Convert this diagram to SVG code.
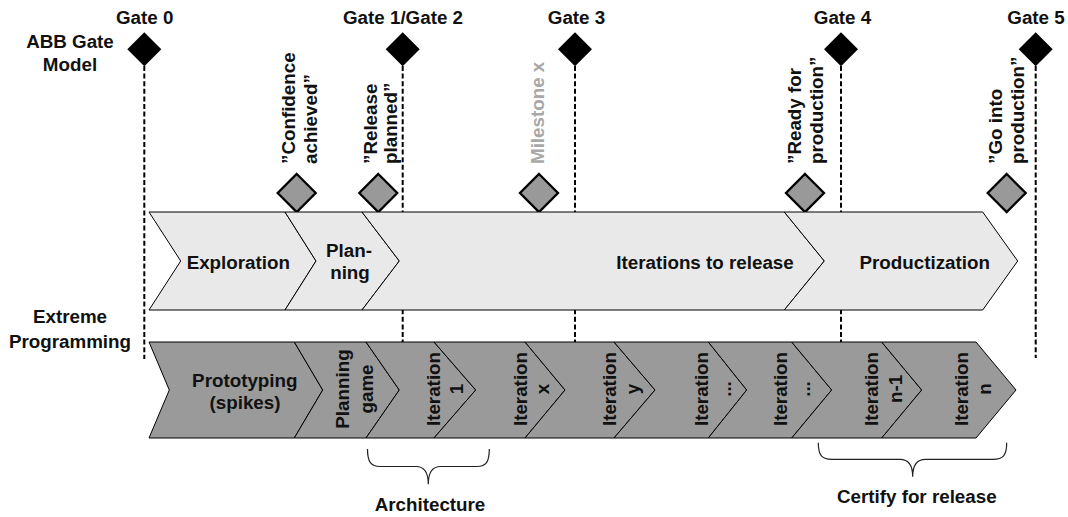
<svg xmlns="http://www.w3.org/2000/svg" width="1068" height="517" viewBox="0 0 1068 517">
  <style>
    text { font-family: "Liberation Sans", Arial, Helvetica, sans-serif; font-weight: bold; font-size: 18.8px; fill: #111; }
    .mid { text-anchor: middle; }
    .muted { fill: #a8a8a8; }
    .gate { fill: #000; }
    .milestone { fill: #999; stroke: #000; stroke-width: 2.3; }
    .phase { fill: #e9e9e9; stroke: #000; stroke-width: 1; stroke-linejoin: miter; }
    .xp { fill: #9a9a9a; stroke: #000; stroke-width: 1; stroke-linejoin: miter; }
    .guide { stroke: #000; stroke-width: 2; stroke-dasharray: 5 2.6; fill: none; }
    .brace { stroke: #222; stroke-width: 1.2; fill: none; }
  </style>
  <defs>
    <polygon id="gateShape" points="0,-17 17,0 0,17 -17,0"/>
    <polygon id="msShape" points="0,-19 19,0 0,19 -19,0"/>
  </defs>

  <rect width="1068" height="517" fill="#fff"/>

  <!-- row captions -->
  <g id="caption-abb">
    <text class="mid" x="70" y="47.5">ABB Gate</text>
    <text class="mid" x="70" y="70.5">Model</text>
  </g>
  <g id="caption-xp">
    <text class="mid" x="70" y="322.5">Extreme</text>
    <text class="mid" x="70" y="347.5">Programming</text>
  </g>

  <!-- dashed gate guide lines (drawn under the chevrons) -->
  <g id="connectors">
    <line class="guide" x1="144.3" y1="66" x2="144.3" y2="359"/>
    <line class="guide" x1="402.7" y1="66" x2="402.7" y2="342"/>
    <line class="guide" x1="575" y1="66" x2="575" y2="342"/>
    <line class="guide" x1="841" y1="66" x2="841" y2="342"/>
    <line class="guide" x1="1035.7" y1="66" x2="1035.7" y2="358"/>
  </g>

  <!-- gates -->
  <g id="gate-0">
    <use href="#gateShape" class="gate" x="144.3" y="49.3"/>
    <text class="mid" x="144.7" y="24">Gate 0</text>
  </g>
  <g id="gate-1-2">
    <use href="#gateShape" class="gate" x="402.7" y="49.3"/>
    <text class="mid" x="403" y="24">Gate 1/Gate 2</text>
  </g>
  <g id="gate-3">
    <use href="#gateShape" class="gate" x="575" y="49.3"/>
    <text class="mid" x="576.5" y="24">Gate 3</text>
  </g>
  <g id="gate-4">
    <use href="#gateShape" class="gate" x="841" y="49.3"/>
    <text class="mid" x="842.5" y="24">Gate 4</text>
  </g>
  <g id="gate-5">
    <use href="#gateShape" class="gate" x="1035.7" y="49.3"/>
    <text class="mid" x="1036" y="24">Gate 5</text>
  </g>

  <!-- milestones -->
  <g id="ms-confidence">
    <use href="#msShape" class="milestone" x="296.7" y="193"/>
    <text transform="translate(295,164) rotate(-90)"><tspan x="0" y="0">”Confidence</tspan><tspan x="0" y="21.7">achieved”</tspan></text>
  </g>
  <g id="ms-release">
    <use href="#msShape" class="milestone" x="378.3" y="193"/>
    <text transform="translate(376.5,164) rotate(-90)"><tspan x="0" y="0">”Release</tspan><tspan x="0" y="20">planned”</tspan></text>
  </g>
  <g id="ms-x">
    <use href="#msShape" class="milestone" x="539" y="193"/>
    <text class="muted" transform="translate(544,164) rotate(-90)">Milestone x</text>
  </g>
  <g id="ms-ready">
    <use href="#msShape" class="milestone" x="805" y="193"/>
    <text transform="translate(800.5,164) rotate(-90)"><tspan x="0" y="0">”Ready for</tspan><tspan x="0" y="22">production”</tspan></text>
  </g>
  <g id="ms-go">
    <use href="#msShape" class="milestone" x="1006.7" y="193"/>
    <text transform="translate(1001.7,164) rotate(-90)"><tspan x="0" y="0">”Go into</tspan><tspan x="0" y="22.5">production”</tspan></text>
  </g>

  <!-- ABB gate model phases -->
  <g id="phase-exploration">
    <polygon class="phase" points="149,212 285,212 316,261 285,310 149,310 180.7,261"/>
    <text class="mid" x="238.3" y="269">Exploration</text>
  </g>
  <g id="phase-planning">
    <polygon class="phase" points="285,212 362,212 399.3,261 362,310 285,310 316,261"/>
    <text class="mid" x="349" y="256.7">Plan-</text>
    <text class="mid" x="350" y="279.3">ning</text>
  </g>
  <g id="phase-iterations">
    <polygon class="phase" points="362,212 784.3,212 824.3,261 784.3,310 362,310 399.3,261"/>
    <text class="mid" x="705" y="269">Iterations to release</text>
  </g>
  <g id="phase-productization">
    <polygon class="phase" points="784.3,212 982.7,212 1017.7,261 982.7,310 784.3,310 824.3,261"/>
    <text class="mid" x="924.7" y="269">Productization</text>
  </g>

  <!-- extreme programming steps -->
  <g id="xp-prototyping">
    <polygon class="xp" points="149,342 294.3,342 322.7,390 294.3,438 149,438 169.3,390"/>
    <text class="mid" x="244.8" y="386.7">Prototyping</text>
    <text class="mid" x="245" y="408.5">(spikes)</text>
  </g>
  <g id="xp-planning-game">
    <polygon class="xp" points="294.3,342 366,342 399.3,390 366,438 294.3,438 322.7,390"/>
    <text class="mid" transform="translate(348.5,389) rotate(-90)"><tspan x="0" y="0">Planning</tspan><tspan x="0" y="24.5">game</tspan></text>
  </g>
  <g id="xp-iteration-1">
    <polygon class="xp" points="366,342 434,342 475.7,390 434,438 366,438 399.3,390"/>
    <text class="mid" transform="translate(440,389) rotate(-90)"><tspan x="0" y="0">Iteration</tspan><tspan x="0" y="22.5">1</tspan></text>
  </g>
  <g id="xp-iteration-x">
    <polygon class="xp" points="434,342 525,342 565,390 525,438 434,438 475.7,390"/>
    <text class="mid" transform="translate(526.7,389) rotate(-90)"><tspan x="0" y="0">Iteration</tspan><tspan x="0" y="22.5">x</tspan></text>
  </g>
  <g id="xp-iteration-y">
    <polygon class="xp" points="525,342 614,342 655,390 614,438 525,438 565,390"/>
    <text class="mid" transform="translate(616,389) rotate(-90)"><tspan x="0" y="0">Iteration</tspan><tspan x="0" y="22.5">y</tspan></text>
  </g>
  <g id="xp-iteration-a">
    <polygon class="xp" points="614,342 708.3,342 746.7,390 708.3,438 614,438 655,390"/>
    <text class="mid" transform="translate(707.7,389) rotate(-90)"><tspan x="0" y="0">Iteration</tspan><tspan x="0" y="23.5">...</tspan></text>
  </g>
  <g id="xp-iteration-b">
    <polygon class="xp" points="708.3,342 791.7,342 831.7,390 791.7,438 708.3,438 746.7,390"/>
    <text class="mid" transform="translate(786.7,389) rotate(-90)"><tspan x="0" y="0">Iteration</tspan><tspan x="0" y="23.5">...</tspan></text>
  </g>
  <g id="xp-iteration-n-1">
    <polygon class="xp" points="791.7,342 881.7,342 921.7,390 881.7,438 791.7,438 831.7,390"/>
    <text class="mid" transform="translate(878.3,389) rotate(-90)"><tspan x="0" y="0">Iteration</tspan><tspan x="0" y="23.4">n-1</tspan></text>
  </g>
  <g id="xp-iteration-n">
    <polygon class="xp" points="881.7,342 976,342 1016,390 976,438 881.7,438 921.7,390"/>
    <text class="mid" transform="translate(968.3,389) rotate(-90)"><tspan x="0" y="0">Iteration</tspan><tspan x="0" y="22.5">n</tspan></text>
  </g>

  <!-- braces -->
  <g id="brace-architecture">
    <path class="brace" d="M367.5,449 C367.5,462 371,466.5 380,466.5 L416,466.5 C424,466.5 428.3,472 428.3,484.3 C428.3,472 432.6,466.5 440.6,466.5 L477,466.5 C486,466.5 489.3,462 489.3,449"/>
    <text class="mid" x="430" y="510.5">Architecture</text>
  </g>
  <g id="brace-certify">
    <path class="brace" d="M818.3,442.7 C818.3,455.5 822,459.3 832,459.3 L900,459.3 C908.5,459.3 912.7,465 912.7,476.7 C912.7,465 917,459.3 925.4,459.3 L993,459.3 C1003,459.3 1006.7,455.5 1006.7,442.7"/>
    <text class="mid" x="916.8" y="503.3">Certify for release</text>
  </g>
</svg>
